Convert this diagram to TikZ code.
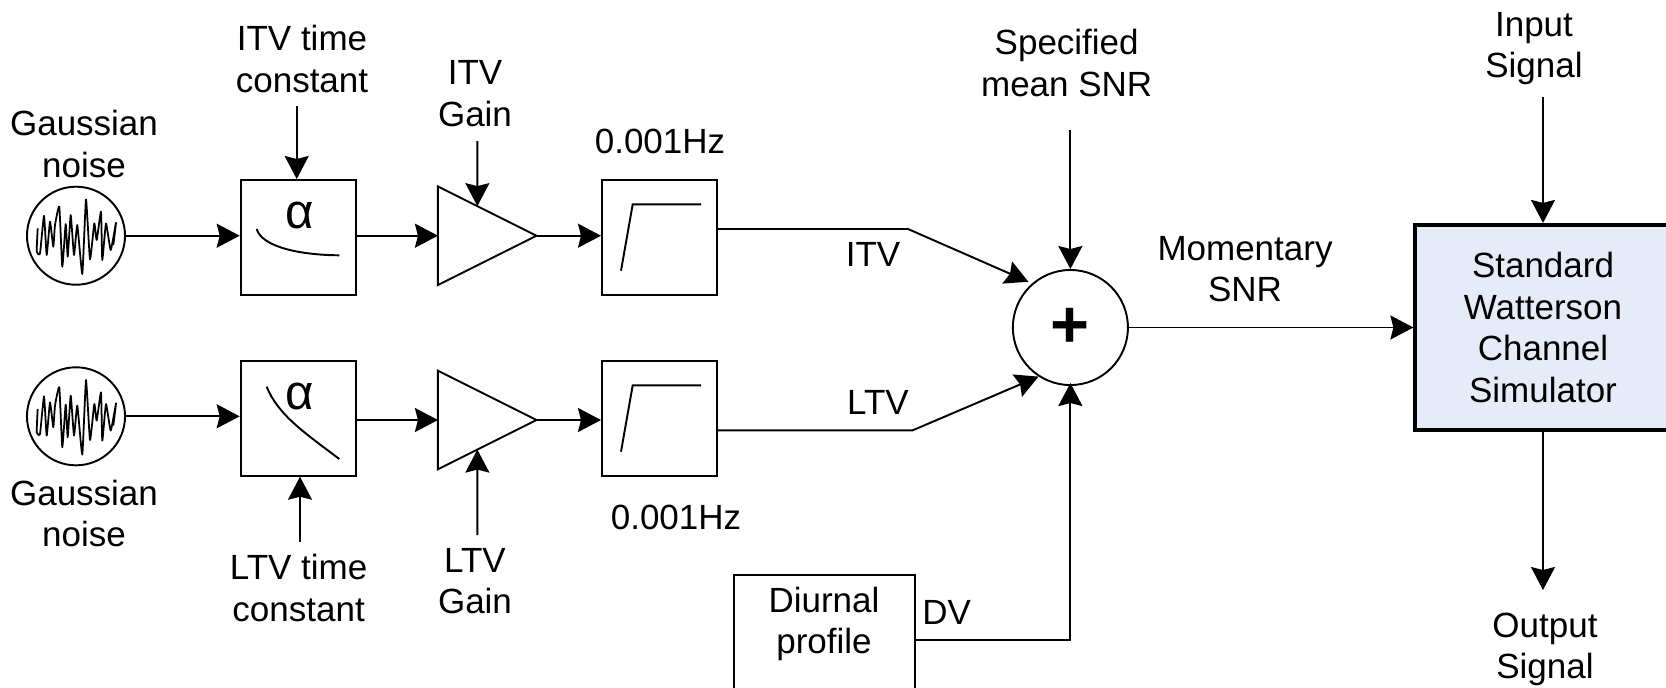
\documentclass[tikz,border=0pt]{standalone}
\usepackage{fontspec}
\setmainfont{Liberation Sans}
\usepackage{xcolor}
\usetikzlibrary{shapes.geometric, arrows.meta, calc}
\definecolor{simblue}{HTML}{E6ECF7}

\begin{document}
\begin{tikzpicture}[
  x=0.01cm, y=-0.01cm,
  line width=0.55pt,
  font=\fontsize{9.95}{11.8}\selectfont,
  lbl/.style={align=center, inner sep=0pt},
  sig/.style={-{Stealth[length=0.23cm, width=0.24cm, inset=0.03cm]}},
  noisenode/.style={draw, circle, minimum size=0.98cm, inner sep=0pt},
  blockbox/.style={draw, rectangle, minimum width=1.15cm, minimum height=1.15cm, inner sep=0pt},
  ampnode/.style={draw, isosceles triangle, isosceles triangle apex angle=53.13, minimum height=0.985cm, inner sep=0pt, outer sep=0pt, anchor=apex},
  sumnode/.style={draw, circle, minimum size=1.15cm, inner sep=0pt},
  alphalbl/.style={inner sep=0pt, font=\fontsize{14}{16}\selectfont},
  noisewave/.pic={
    \draw[line width=0.5pt, line join=round] plot[smooth, tension=0.25] coordinates {
      (-38.3,-7.3) (-39.3,16) (-36,17.7) (-32,-20) (-29.3,19.3) (-26,-14) (-22.7,11)
      (-21,-10.7) (-16.7,-29) (-13.7,31) (-10.3,-11.7) (-8.3,21) (-5.3,-20.7) (-2,19.3)
      (1.3,-10.7) (6.3,38.3) (10,-36.3) (14,23.7) (18.3,-12.3) (20.7,4.3) (25,-24)
      (26.3,24.3) (30,-12.3) (34.7,14.3) (40,-13) (37.3,9.3)};
  }
]
\clip (0,0) rectangle (1666,687);

\node[noisenode] (noisea) at (76,235.7) {};
\node[noisenode] (noiseb) at (76,416.3) {};
\pic at (noisea) {noisewave};
\pic at (noiseb) {noisewave};
\node[lbl] (gaussa) at (84,144) {Gaussian\\noise};
\node[lbl] (gaussb) at (84,513.5) {Gaussian\\noise};

\node[blockbox] (itvfilt) at (298.2,237.5) {};
\node[blockbox] (ltvfilt) at (298.2,418.2) {};
\node[alphalbl] (itvalpha) at (299.5,215) {α};
\node[alphalbl] (ltvalpha) at (299.5,396) {α};
\draw (256.7,229) .. controls (262,247) and (300,255) .. (339.3,255.3);
\draw (266.7,386.7) .. controls (278,415) and (305,433) .. (339.3,459);

\node[ampnode] (itvamp) at (536.5,235.7) {};
\node[ampnode] (ltvamp) at (536.5,420) {};

\node[blockbox] (itvhp) at (659.5,237.5) {};
\node[blockbox] (ltvhp) at (659.5,418.5) {};
\draw (621,270.7) -- (632.7,204.3) -- (701,204.3);
\draw (621,451.7) -- (632.7,385.3) -- (701,385.3);

\node[sumnode, font=\fontsize{19}{21}\selectfont\bfseries] (sum) at (1070.4,327.5) {+};
\node[blockbox, line width=1.15pt, fill=simblue, minimum width=2.55cm, minimum height=2.05cm, align=center] (sim) at (1543,327.5) {Standard\\Watterson\\Channel\\Simulator};
\node[blockbox, minimum width=1.81cm, minimum height=1.3cm, anchor=north] (diurnal) at (824.2,574) {};
\node[lbl] (diurnaltxt) at (824,624) {Diurnal\\profile};

\node[lbl] (itvtc) at (302,59) {ITV time\\constant};
\node[lbl] (itvgain) at (475,93.5) {ITV\\Gain};
\node[lbl] (hztop) at (660,141) {0.001Hz};
\node[lbl] (hzbot) at (676,517.5) {0.001Hz};
\node[lbl] (ltvtc) at (298.6,588) {LTV time\\constant};
\node[lbl] (ltvgain) at (475,581) {LTV\\Gain};
\node[lbl] (itvlbl) at (873,254) {ITV};
\node[lbl] (ltvlbl) at (878,402) {LTV};
\node[lbl] (snrspec) at (1066.7,63) {Specified\\mean SNR};
\node[lbl] (snrmom) at (1245,269) {Momentary\\SNR};
\node[lbl] (dvlbl) at (946.7,612) {DV};
\node[lbl] (inlbl) at (1534,48.5) {Input\\Signal};
\node[lbl] (outlbl) at (1545,649.5) {Output\\Signal};

\coordinate (itvtcend) at (296.7,106);
\coordinate (itvgainend) at (477.4,141);
\coordinate (ltvtcend) at (300,542);
\coordinate (ltvgainend) at (477.4,535);
\coordinate (snrend) at (1070.4,130);
\coordinate (inend) at (1543,97);
\coordinate (outend) at (1543,590);
\coordinate (itvbend) at (908,229);
\coordinate (ltvbend) at (912.7,430.3);
\coordinate (dvbend) at (1070.4,640);

\draw[sig] (noisea.east) -- (noisea.east -| itvfilt.west);
\draw[sig] (noiseb.east) -- (noiseb.east -| ltvfilt.west);
\draw[sig] (itvfilt.east |- itvamp.apex) -- (itvamp.apex -| itvamp.lower side);
\draw[sig] (ltvfilt.east |- ltvamp.apex) -- (ltvamp.apex -| ltvamp.lower side);
\draw[sig] (itvamp.apex) -- (itvamp.apex -| itvhp.west);
\draw[sig] (ltvamp.apex) -- (ltvamp.apex -| ltvhp.west);
\draw[sig] (itvtcend) -- (itvtcend |- itvfilt.north);
\draw[sig] (ltvtcend) -- (ltvtcend |- ltvfilt.south);
\draw[sig] (itvgainend) -- ($(itvamp.left corner)!0.4!(itvamp.apex)$);
\draw[sig] (ltvgainend) -- ($(ltvamp.right corner)!0.4!(ltvamp.apex)$);
\draw[sig, shorten >=0.04cm] (itvhp.east |- itvbend) -- (itvbend) -- (sum.131);
\draw[sig] (ltvhp.east |- ltvbend) -- (ltvbend) -- (sum.237);
\draw[sig] (snrend) -- (sum.north);
\draw[sig, shorten >=-0.03cm] (diurnal.east |- dvbend) -- (dvbend) -- (sum.south);
\draw[sig] (sum.east) -- (sim.west);
\draw[sig] (inend) -- (sim.north);
\draw[sig] (sim.south) -- (outend);
\end{tikzpicture}
\end{document}
